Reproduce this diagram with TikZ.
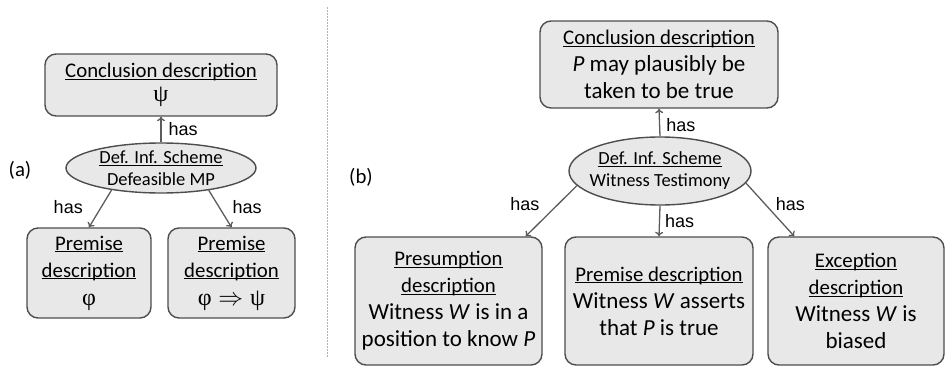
\documentclass[tikz,border=0pt]{standalone}
\usepackage{fontspec}
\setmainfont{Carlito}
\newfontfamily\hasfont{Liberation Sans}
\newfontfamily\greekfont{Liberation Serif}
\usepackage{tikz}
\usepackage{xcolor}
\usetikzlibrary{shapes, arrows.meta}
\definecolor{boxfill}{HTML}{E8E8E8}
\definecolor{boxline}{HTML}{4D4D4D}
\definecolor{arrowgray}{HTML}{5C5C5C}
\newcommand{\ulhead}[1]{\vphantom{#1}\underline{\smash{#1}}}
\newcommand{\bodysize}{\fontsize{23}{27}\selectfont}
\newcommand{\grk}[1]{{\greekfont\fontsize{24}{27}\selectfont #1}}

\begin{document}
\begin{tikzpicture}[x=1pt, y=-1pt,
        descbox/.style={draw=boxline, fill=boxfill, line width=1.4pt, rounded corners=11pt, align=center, inner sep=0pt, font=\fontsize{20.8}{27}\selectfont},
        scheme/.style={ellipse, draw=boxline, fill=boxfill, line width=1.4pt, align=center, inner xsep=-10pt, inner ysep=-5pt, font=\fontsize{18.5}{22}\selectfont},
        hasarrow/.style={draw=arrowgray, line width=1.3pt, -{To[length=4.5pt, width=8pt]}},
        haslabel/.style={inner sep=0pt, font=\hasfont\fontsize{18}{18}\selectfont},
        panel/.style={font=\fontsize{20.8}{24}\selectfont},
        sepline/.style={draw=gray!60, line width=0.8pt, dash pattern=on 1.5pt off 1.5pt}]
            \useasboundingbox (0,0) rectangle (945,367);

            \node[descbox, minimum width=232pt, minimum height=62pt] (concA) at (161,85) {\ulhead{Conclusion description}\\[-3pt]\grk{ψ}};
            \node[scheme, minimum width=190pt, minimum height=50pt] (schA) at (161,168) {\ulhead{Def. Inf. Scheme}\\Defeasible MP};
            \node[descbox, minimum width=124pt, minimum height=90pt] (premA1) at (89,273) {\ulhead{Premise}\\\ulhead{description}\\[1pt]\grk{φ}};
            \node[descbox, minimum width=127pt, minimum height=90pt] (premA2) at (231.5,273) {\ulhead{Premise}\\\ulhead{description}\\[1pt]\grk{φ\;\(\Rightarrow\)\;ψ}};
            \node[panel] (labA) at (20,170) {(a)};

            \draw[hasarrow] (schA.north) -- (concA.south) node[haslabel, midway, right=7pt] {has};
            \draw[hasarrow] (schA.204) -- (premA1.north) node[haslabel, pos=0.45, left=18pt] {has};
            \draw[hasarrow] (schA.-25) -- (premA2.north) node[haslabel, pos=0.45, right=13pt] {has};

            \draw[sepline] (327,7) -- (327,358);

            \node[descbox, minimum width=238pt, minimum height=87pt] (concB) at (659,64.5) {\ulhead{Conclusion description}\\{\bodysize\textit{P} may plausibly be}\\{\bodysize taken to be true}};
            \node[scheme, minimum width=182pt, minimum height=68pt] (schB) at (660,171) {\ulhead{Def. Inf. Scheme}\\Witness Testimony};
            \node[descbox, minimum width=187pt, minimum height=128pt] (presB) at (448.5,301) {\ulhead{Presumption}\\\ulhead{description}\\{\bodysize Witness \textit{W} is in a}\\{\bodysize position to know \textit{P}}};
            \node[descbox, minimum width=188pt, minimum height=128pt] (premB) at (659,301) {\ulhead{Premise description}\\{\bodysize Witness \textit{W} asserts}\\{\bodysize that \textit{P} is true}};
            \node[descbox, minimum width=176pt, minimum height=128pt] (excB) at (856,301) {\ulhead{Exception}\\\ulhead{description}\\{\bodysize Witness \textit{W} is}\\{\bodysize biased}};
            \node[panel] (labB) at (361,177) {(b)};

            \draw[hasarrow] (schB.north) -- (concB.south) node[haslabel, pos=0.4, right=6pt] {has};
            \draw[hasarrow] (schB.190) -- ([xshift=-17pt]presB.north east) node[haslabel, pos=0.37, left=18pt] {has};
            \draw[hasarrow] (schB.south) -- (premB.north) node[haslabel, midway, right=5pt] {has};
            \draw[hasarrow] (schB.-8) -- ([xshift=27pt]excB.north west) node[haslabel, pos=0.4, right=10pt] {has};
\end{tikzpicture}
\end{document}
